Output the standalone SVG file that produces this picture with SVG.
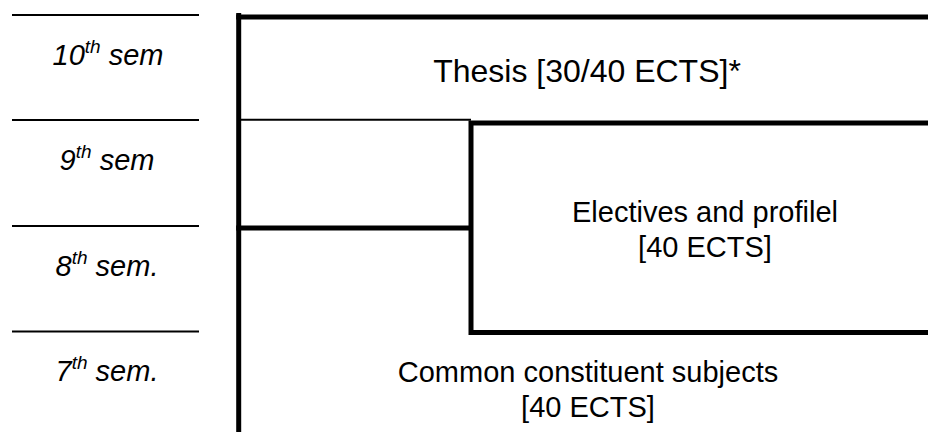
<svg xmlns="http://www.w3.org/2000/svg" width="928" height="432" viewBox="0 0 928 432">
  <style>
    .bg { fill: #ffffff; }
    .thin { stroke: #000; stroke-width: 2; fill: none; }
    .thick { stroke: #000; stroke-width: 5; fill: none; }
    .sem { font-family: "Liberation Sans", Arial, sans-serif; font-style: italic; font-size: 29px; fill: #000; text-anchor: middle; }
    .sup { font-size: 19px; }
    .lbl { font-family: "Liberation Sans", Arial, sans-serif; font-size: 29px; fill: #000; text-anchor: middle; }
  </style>
  <rect class="bg" x="0" y="0" width="928" height="432"/>

  <g id="sem10">
    <line class="thin" x1="12" y1="15" x2="199" y2="15"/>
    <text class="sem" x="108" y="65">10<tspan class="sup" dy="-12">th</tspan><tspan dy="12"> sem</tspan></text>
  </g>
  <g id="sem9">
    <line class="thin" x1="12" y1="120" x2="199" y2="120"/>
    <text class="sem" x="107" y="170">9<tspan class="sup" dy="-12">th</tspan><tspan dy="12"> sem</tspan></text>
  </g>
  <g id="sem8">
    <line class="thin" x1="12" y1="226" x2="199" y2="226"/>
    <text class="sem" x="107" y="276">8<tspan class="sup" dy="-12">th</tspan><tspan dy="12"> sem.</tspan></text>
  </g>
  <g id="sem7">
    <line class="thin" x1="12" y1="331.5" x2="199" y2="331.5"/>
    <text class="sem" x="107" y="381">7<tspan class="sup" dy="-12">th</tspan><tspan dy="12"> sem.</tspan></text>
  </g>

  <g id="connectors">
    <line class="thick" x1="238.7" y1="13" x2="238.7" y2="432"/>
  </g>

  <g id="thesis">
    <line class="thick" x1="236.2" y1="17" x2="928" y2="17"/>
    <text class="lbl" x="587" y="82" style="font-size:32px">Thesis [30/40 ECTS]*</text>
  </g>

  <g id="electives">
    <line class="thin" x1="241" y1="119.7" x2="471" y2="119.7"/>
    <path class="thick" d="M928 123 H471 V332.5 H928"/>
    <text class="lbl" x="705" y="222">Electives and profilel</text>
    <text class="lbl" x="705" y="257">[40 ECTS]</text>
  </g>

  <g id="common">
    <line class="thick" x1="236.2" y1="228" x2="471" y2="228"/>
    <text class="lbl" x="588" y="382">Common constituent subjects</text>
    <text class="lbl" x="588" y="417">[40 ECTS]</text>
  </g>
</svg>
